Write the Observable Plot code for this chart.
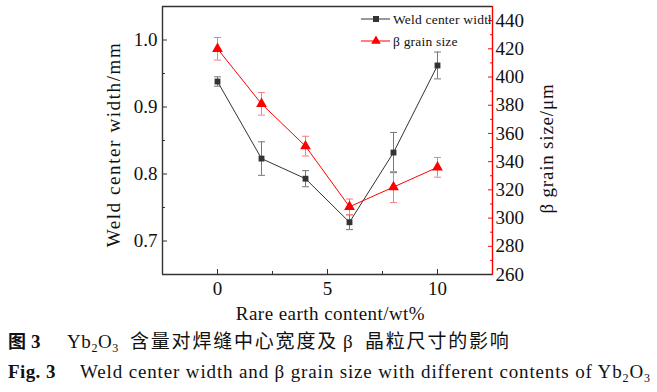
<!DOCTYPE html>
<html><head><meta charset="utf-8">
<script src="https://cdn.jsdelivr.net/npm/d3@7"></script>
<script src="https://cdn.jsdelivr.net/npm/@observablehq/plot@0.6"></script>
<style>
body{margin:0;background:#fff;}
#wrap{position:relative;width:657px;height:392px;font-family:"Liberation Serif","Noto Sans CJK SC",serif;color:#111;overflow:hidden;}
#wrap svg{position:absolute;left:0;top:0;}
</style>
</head><body><div id="wrap"></div>
<script>
// ---- data ----
const content = [0, 2, 4, 6, 8, 10];
const weldWidth = [0.938, 0.823, 0.793, 0.728, 0.832, 0.962];
const weldErr = [0.007, 0.025, 0.012, 0.011, 0.03, 0.02];
const grainSize = [420, 381, 351, 308, 322, 336];
const grainErr = [8, 8, 7, 5.5, 11, 7];
const leftTicks = [0.7, 0.8, 0.9, 1.0];
const leftMinor = [0.75, 0.85, 0.95];
const rightTicks = [260, 280, 300, 320, 340, 360, 380, 400, 420, 440];
const rightMinor = [270, 290, 310, 330, 350, 370, 390, 410, 430];
const xTicks = [0, 5, 10];
const xMinor = [2.5, 7.5];
const xDomain = [-2.5, 12.5];
const leftDomain = [0.65, 1.05];
const rightDomain = [260, 450];
const xLabel = "Rare earth content/wt%";
const leftLabel = "Weld center width/mm";
const rightLabel = "β grain size/μm";
const seriesNames = ["Weld center width", "β grain size"];

// map right-axis values into left-axis units
const toLeft = d3.scaleLinear(rightDomain, leftDomain);

const weld = content.map((x, i) => ({x, y: weldWidth[i], e: weldErr[i]}));
const grain = content.map((x, i) => ({x, y: toLeft(grainSize[i]), lo: toLeft(grainSize[i] - grainErr[i]), hi: toLeft(grainSize[i] + grainErr[i])}));

const cap = {draw(ctx, size) { const w = Math.sqrt(size / Math.PI); ctx.moveTo(-w, 0); ctx.lineTo(w, 0); }};
const W = 657, H = 325;
const frameColor = "#333";

const chart = Plot.plot({
  width: W, height: H,
  marginLeft: 162, marginRight: 165, marginTop: 6, marginBottom: 51,
  style: {fontFamily: "'Liberation Serif', serif", fontSize: "19px", color: "#111", background: "transparent"},
  x: {domain: xDomain},
  y: {domain: leftDomain},
  marks: [
    Plot.axisX(xTicks, {tickSize: -5, tickPadding: 12, label: null, tickFormat: d => String(d), stroke: frameColor}),
    Plot.axisX(xMinor, {tickSize: -3, tickFormat: () => "", label: null, stroke: frameColor}),
    Plot.axisY(leftTicks, {tickSize: -5, tickPadding: 10, tickFormat: d3.format(".1f"), label: null, stroke: frameColor}),
    Plot.axisY(leftMinor, {tickSize: -3, tickFormat: () => "", label: null, stroke: frameColor}),
    Plot.axisY(rightTicks.map(toLeft), {anchor: "right", tickSize: -5, tickPadding: 8, tickFormat: d => String(Math.round(toLeft.invert(d))), label: null, stroke: "red", fill: "#111"}),
    Plot.axisY(rightMinor.map(toLeft), {anchor: "right", tickSize: -3, tickFormat: () => "", label: null, stroke: "red"}),
    Plot.ruleY([leftDomain[0], leftDomain[1]], {stroke: frameColor, strokeWidth: 1.4}),
    Plot.ruleX([xDomain[0]], {stroke: frameColor, strokeWidth: 1.4}),
    Plot.ruleX([xDomain[1]], {stroke: "red", strokeWidth: 1.4}),
    // error bars
    Plot.ruleX(weld, {x: "x", y1: d => d.y - d.e, y2: d => d.y + d.e, stroke: "#777", strokeWidth: 1}),
    Plot.dot(weld, {x: "x", y: d => d.y - d.e, symbol: cap, r: 3.5, stroke: "#777", strokeWidth: 1}),
    Plot.dot(weld, {x: "x", y: d => d.y + d.e, symbol: cap, r: 3.5, stroke: "#777", strokeWidth: 1}),
    Plot.ruleX(grain, {x: "x", y1: "lo", y2: "hi", stroke: "#f08080", strokeWidth: 1}),
    Plot.dot(grain, {x: "x", y: "lo", symbol: cap, r: 3.5, stroke: "#f08080", strokeWidth: 1}),
    Plot.dot(grain, {x: "x", y: "hi", symbol: cap, r: 3.5, stroke: "#f08080", strokeWidth: 1}),
    // lines
    Plot.line(weld, {x: "x", y: "y", stroke: "#333", strokeWidth: 1}),
    Plot.line(grain, {x: "x", y: "y", stroke: "red", strokeWidth: 1}),
    Plot.dot(weld, {x: "x", y: "y", symbol: "square", r: 3.3, fill: "#333", stroke: "none"}),
    Plot.dot(grain, {x: "x", y: "y", symbol: "triangle", r: 4, fill: "red", stroke: "none"}),
    // axis titles
    Plot.text([leftLabel], {frameAnchor: "left", textAnchor: "middle", lineAnchor: "middle", rotate: -90, dx: -49, dy: 4, text: d => d, fontSize: 19, fill: "#111"}),
    Plot.text([rightLabel], {frameAnchor: "right", textAnchor: "middle", lineAnchor: "middle", rotate: -90, dx: 54, dy: 8, text: d => d, fontSize: 19, fill: "#111"}),
    Plot.text([xLabel], {frameAnchor: "bottom", textAnchor: "middle", lineAnchor: "middle", dy: 39, dx: 3, text: d => d, fontSize: 19, fill: "#111"})
  ]
});
const wrap = document.getElementById("wrap");
wrap.appendChild(chart);
// letter spacing for titles (reference typesetting is loose)
const spacing = {[leftLabel]: "1.6px", [rightLabel]: "0.8px", [xLabel]: "0.45px"};
d3.select(chart).selectAll("text").each(function() {
  const s = spacing[this.textContent];
  if (s) this.setAttribute("letter-spacing", s);
});

// legend overlay (inside the frame, top right)
const leg = d3.select(wrap).append("svg").attr("width", W).attr("height", H)
  .style("font-family", "'Liberation Serif', serif").style("font-size", "13.5px");
leg.append("clipPath").attr("id", "legclip").append("rect").attr("x", 0).attr("y", 0).attr("width", 491).attr("height", H);
const g = leg.append("g").attr("clip-path", "url(#legclip)");
const legendItems = [
  {name: seriesNames[0], color: "#333", y: 19, sym: d3.symbolSquare, size: 36},
  {name: seriesNames[1], color: "red", y: 41, sym: d3.symbolTriangle, size: 40}
];
legendItems.forEach(it => {
  g.append("line").attr("x1", 361).attr("x2", 390).attr("y1", it.y).attr("y2", it.y).attr("stroke", it.color).attr("stroke-width", 1);
  g.append("path").attr("d", d3.symbol(it.sym, it.size)()).attr("transform", `translate(376,${it.y})`).attr("fill", it.color);
  g.append("text").attr("x", 393).attr("y", it.y).attr("dy", "0.35em").attr("letter-spacing", "0.2px").attr("fill", "#111").text(it.name);
});

// captions (below the chart)
const capSvg = d3.select(wrap).append("svg").attr("width", W).attr("height", 67).style("top", "325px")
  .style("font-family", "'Liberation Serif', 'Noto Sans CJK SC', serif").style("font-size", "19px").attr("fill", "#111");
// line 1
capSvg.append("text").attr("x", 8).attr("y", 23).style("font-family", "'Noto Sans CJK SC'").style("font-weight", "bold").style("font-size", "18px").text("图");
capSvg.append("text").attr("x", 31).attr("y", 23).style("font-weight", "bold").text("3");
function chem(x, y) {
  const t = capSvg.append("text").attr("x", x).attr("y", y).attr("letter-spacing", "0.6px");
  t.append("tspan").text("Yb");
  t.append("tspan").attr("dy", 4).style("font-size", "12px").text("2");
  t.append("tspan").attr("dy", -4).text("O");
  t.append("tspan").attr("dy", 4).style("font-size", "12px").text("3");
  return t;
}
chem(67, 23);
capSvg.append("text").attr("x", 130).attr("y", 23).style("font-family", "'Noto Sans CJK SC'").style("font-size", "19px").attr("letter-spacing", "1.8px").text("含量对焊缝中心宽度及");
capSvg.append("text").attr("x", 343).attr("y", 23).text("β");
capSvg.append("text").attr("x", 365).attr("y", 23).style("font-family", "'Noto Sans CJK SC'").style("font-size", "19px").attr("letter-spacing", "1.8px").text("晶粒尺寸的影响");
// line 2
capSvg.append("text").attr("x", 8).attr("y", 53).style("font-weight", "bold").attr("letter-spacing", "0.4px").text("Fig. 3");
const l2 = capSvg.append("text").attr("x", 80).attr("y", 53).attr("textLength", 570).attr("lengthAdjust", "spacing");
l2.append("tspan").text("Weld center width and β grain size with different contents of Yb");
l2.append("tspan").attr("dy", 4).style("font-size", "12px").text("2");
l2.append("tspan").attr("dy", -4).text("O");
l2.append("tspan").attr("dy", 4).style("font-size", "12px").text("3");
</script>
</body></html>
